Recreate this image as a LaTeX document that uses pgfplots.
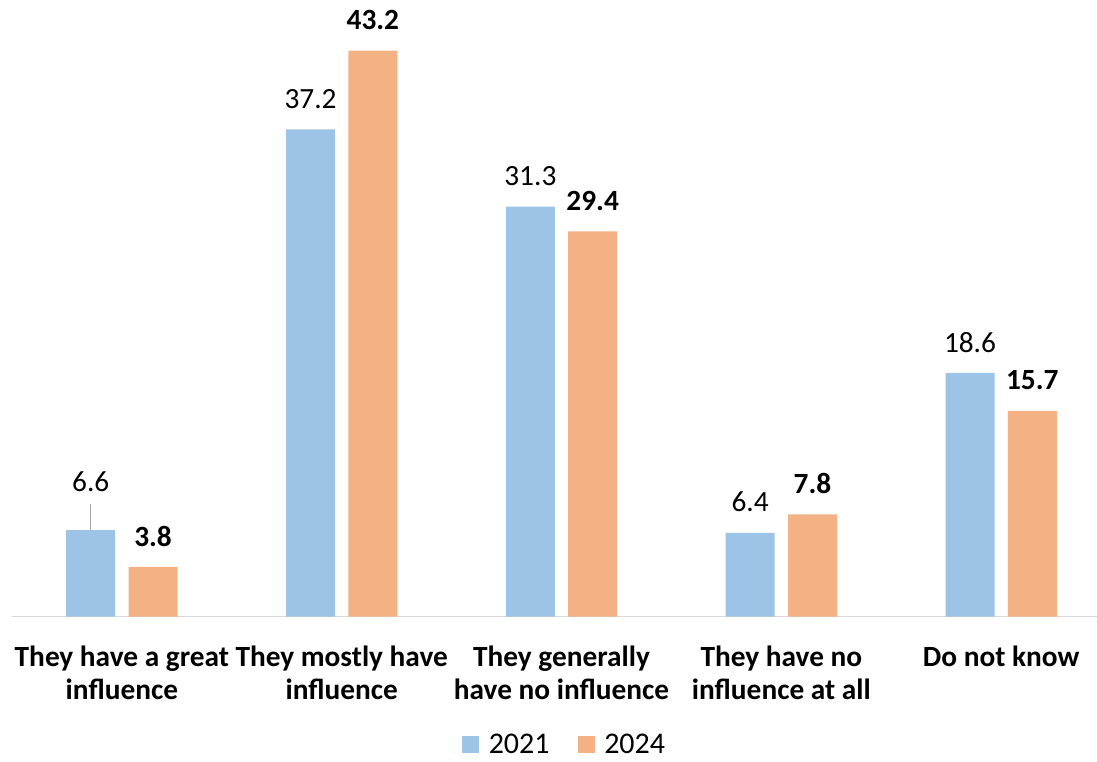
\documentclass[border=0pt]{standalone}
\usepackage{pgfplots}
\pgfplotsset{compat=1.18}
\usepackage{pgfplotstable}
\usepackage{fontspec}
\setmainfont{Carlito}

\definecolor{bar21}{HTML}{9DC3E6}
\definecolor{bar24}{HTML}{F4B183}
\definecolor{baseline}{HTML}{D9D9D9}
\definecolor{leader}{HTML}{A6A6A6}

% category, value, label, label offset above the bar top (pt)
\pgfplotstableread{
x y lbl off
0 6.6 6.6 36
1 37.2 37.2 23
2 31.3 31.3 23
3 6.4 6.4 23
4 18.6 18.6 23
}\datatwentyone
\pgfplotstableread{
x y lbl off
0 3.8 3.8 23
1 43.2 43.2 23
2 29.4 29.4 23
3 7.8 7.8 23
4 15.7 15.7 23
}\datatwentyfour

\begin{document}
\begin{tikzpicture}
\begin{axis}[
  at={(0,0)}, anchor=south west,
  scale only axis,
  width=813.75pt, height=452pt,
  xmin=-0.5, xmax=4.436,
  ymin=0, ymax=46,
  ybar=10pt,
  bar width=36.75pt,
  axis y line=none,
  axis x line*=bottom,
  x axis line style={-, draw=baseline, line width=1.1pt},
  xtick={0,1,2,3,4},
  xticklabels={They have a great\\influence, They mostly have\\influence, They generally\\have no influence, They have no\\influence at all, Do not know},
  major tick length=0pt,
  x tick label style={font=\fontsize{22}{24.8}\selectfont\bfseries, align=center, yshift=-18.5pt},
  point meta=explicit symbolic,
  nodes near coords,
  legend columns=-1,
  legend style={draw=none, fill=none, at={(0.509,-0.212)}, anchor=center,
    font=\fontsize{22.5}{24}\selectfont,
    nodes={inner sep=1pt},
    /tikz/every odd column/.append style={column sep=6pt},
    /tikz/every even column/.append style={column sep=20pt}},
  legend image code/.code={\fill[#1,draw=none] (0pt,-6.5pt) rectangle (13pt,6pt);},
]
\addplot[fill=bar21, draw=none,
  visualization depends on={\thisrow{off}\as\labeloff},
  nodes near coords style={font=\fontsize{22}{24}\selectfont, anchor=center, yshift=\labeloff pt}]
  table[x=x, y=y, meta=lbl] {\datatwentyone};
\addlegendentry{2021}
\addplot[fill=bar24, draw=none,
  visualization depends on={\thisrow{off}\as\labeloff},
  nodes near coords style={font=\fontsize{22}{24}\selectfont\bfseries, anchor=center, yshift=\labeloff pt}]
  table[x=x, y=y, meta=lbl] {\datatwentyfour};
\addlegendentry{2024}
% leader line from the raised 6.6 label down to its bar
\draw[leader, line width=0.9pt] ([xshift=-23.4pt]axis cs:0,6.6) -- ([xshift=-23.4pt,yshift=19.5pt]axis cs:0,6.6);
\end{axis}
\pgfresetboundingbox
\useasboundingbox (-9pt,-109pt) rectangle (813.75pt,462.5pt);
\end{tikzpicture}
\end{document}
